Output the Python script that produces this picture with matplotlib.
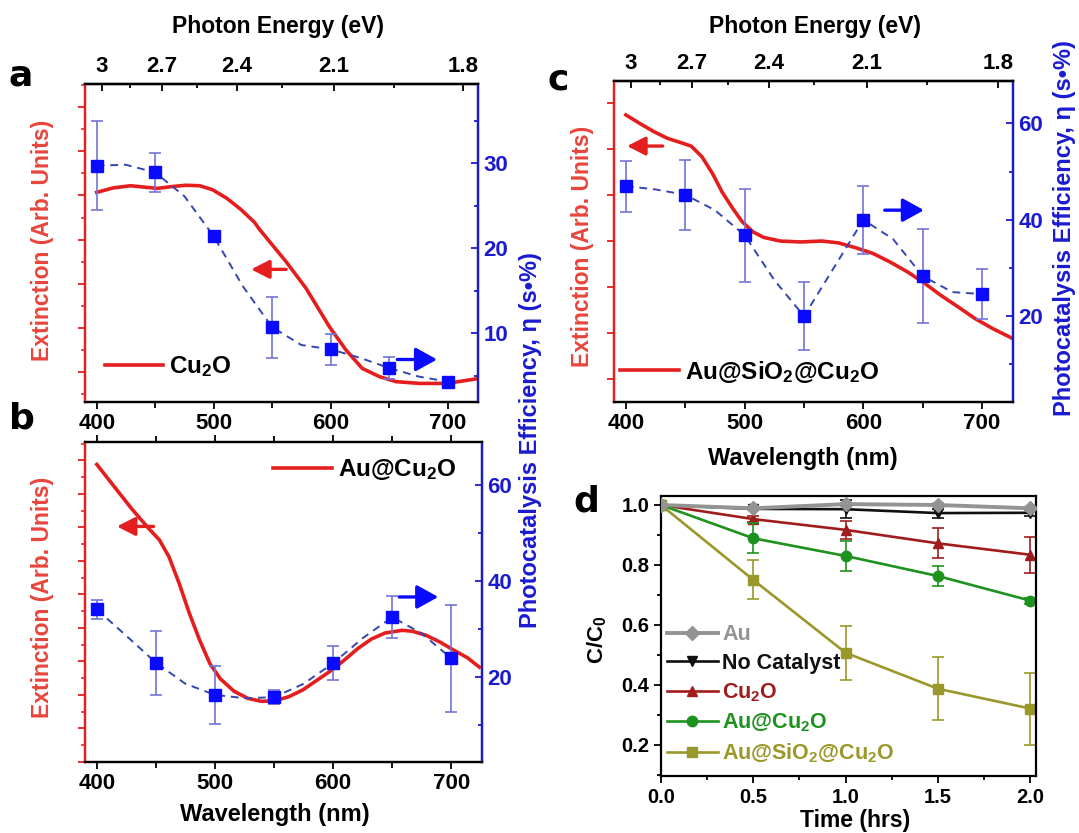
import numpy as np
import matplotlib
matplotlib.use('Agg')
import matplotlib.pyplot as plt
from matplotlib.ticker import MultipleLocator, FixedLocator, FormatStrFormatter

plt.rcParams.update({
    'font.family': ['Liberation Sans', 'DejaVu Sans'],
    'font.weight': 'bold',
    'mathtext.fontset': 'custom',
    'mathtext.rm': 'Liberation Sans:bold',
    'mathtext.bf': 'Liberation Sans:bold',
    'mathtext.it': 'Liberation Sans:bold',
    'mathtext.default': 'rm',
    'axes.linewidth': 1.6,
})

# ---- data: photocatalysis efficiency (blue squares) ----
wl = [400, 450, 500, 550, 600, 650, 700]
eta_a = [29.7, 28.9, 21.4, 10.7, 8.1, 5.9, 4.3]
eta_a_err = [5.2, 2.3, 0.4, 3.6, 1.85, 1.3, 0.5]
eta_b = [34.0, 22.9, 16.2, 15.7, 22.8, 32.4, 23.8]
eta_b_err = [2.0, 6.7, 6.1, 1.5, 3.6, 4.4, 11.2]
eta_c = [47.0, 45.2, 36.8, 20.0, 40.0, 28.3, 24.6]
eta_c_err = [5.3, 7.3, 9.6, 7.0, 7.0, 9.7, 5.1]

# dashed guide curves, read every 25 nm
wl_fit = [400, 425, 450, 475, 500, 525, 550, 575, 600, 625, 650, 675, 700]
fit_a = [29.7, 29.8, 28.9, 26.1, 21.4, 15.5, 10.7, 8.6, 8.1, 7.1, 5.9, 4.9, 4.3]
fit_b = [34.0, 28.5, 22.9, 18.5, 16.2, 15.5, 15.7, 18.5, 22.8, 28.0, 32.4, 29.0, 23.8]
fit_c = [47.0, 46.3, 45.2, 42.0, 36.8, 27.5, 20.0, 30.0, 40.0, 36.0, 28.3, 25.0, 24.6]

# ---- data: extinction spectra (red, arb. units) ----
ext_a_wl = [400, 414, 429, 440, 452, 464, 476, 488, 499, 511, 523, 535, 539,
            562, 579, 599, 613, 627, 642, 656, 676, 699, 724]
ext_a = [5.07, 5.17, 5.22, 5.19, 5.16, 5.20, 5.23, 5.22, 5.13, 4.94, 4.69, 4.39, 4.24,
         3.50, 2.90, 2.03, 1.51, 1.09, 0.90, 0.79, 0.75, 0.75, 0.85]

ext_b_wl = [400, 414.5, 429, 443.6, 452.9, 461, 469.7, 478.4, 487.1, 495.8, 504.6, 516.2,
            527.8, 539.4, 551, 562.6, 574.3, 585.9, 599.2, 609.1, 620.7, 632.4, 644,
            658.5, 667.2, 678.8, 690.4, 700, 713.7, 723.8]
ext_b = [8.88, 8.23, 7.58, 6.98, 6.63, 6.13, 5.33, 4.43, 3.63, 2.93, 2.48, 2.11,
         1.90, 1.81, 1.83, 1.95, 2.15, 2.43, 2.75, 3.03, 3.38, 3.67, 3.85,
         3.93, 3.90, 3.78, 3.58, 3.38, 3.11, 2.83]

ext_c_wl = [400, 412, 424, 435, 447, 455, 464, 473, 481, 490, 498, 507, 516, 530,
            547, 565, 579, 594, 608, 622, 637, 651, 665, 680, 694, 709, 724.5]
ext_c = [6.75, 6.56, 6.38, 6.24, 6.14, 6.07, 5.84, 5.47, 5.07, 4.71, 4.42, 4.20, 4.08, 4.00,
         3.98, 4.00, 3.96, 3.85, 3.73, 3.55, 3.33, 3.09, 2.82, 2.56, 2.31, 2.09, 1.89]

energy_ticks = [3, 2.7, 2.4, 2.1, 1.8]
energy_labels = ['3', '2.7', '2.4', '2.1', '1.8']
energy_minor = [2.85, 2.55, 2.25, 1.95]

# ---- data: degradation kinetics (panel d) ----
time_h = [0.0, 0.5, 1.0, 1.5, 2.0]
d_names = ['Au', 'No Catalyst', 'Cu$_2$O', 'Au@Cu$_2$O', 'Au@SiO$_2$@Cu$_2$O']
d_vals = [
    [1.0, 0.989, 1.003, 1.0, 0.989],
    [1.0, 0.987, 0.986, 0.973, 0.974],
    [1.0, 0.953, 0.917, 0.872, 0.834],
    [1.0, 0.889, 0.830, 0.763, 0.681],
    [1.0, 0.750, 0.507, 0.387, 0.321],
]
d_errs = [
    [0, 0.005, 0.005, 0.005, 0.005],
    [0, 0.005, 0.03, 0.015, 0.01],
    [0, 0.01, 0.03, 0.05, 0.06],
    [0, 0.05, 0.05, 0.033, 0.01],
    [0, 0.065, 0.09, 0.105, 0.12],
]
d_colors = ['#939393', '#101010', '#a01c1c', '#1e921e', '#9a982a']
d_markers = ['D', 'v', '^', 'o', 's']

RED = '#e41e1e'
RED_LABEL = '#e8453c'
BLUE = '#0a0aff'
BLUE_AX = '#1a1ad0'
BLUE_DASH = '#3446b0'
BLUE_ERR = '#7474d8'

W, H = 1079, 833
fig = plt.figure(figsize=(W / 100, H / 100), dpi=100)


def box(l, t, r, b):
    return [l / W, 1 - b / H, (r - l) / W, (b - t) / H]


def ftext(x, y, s, **kw):
    fig.text(x / W, 1 - y / H, s, ha='center', va='center', **kw)


def lam2e(x):
    x = np.asarray(x, float)
    with np.errstate(divide='ignore'):
        return 1390.0 / (x + 59.0)


def e2lam(e):
    e = np.asarray(e, float)
    with np.errstate(divide='ignore'):
        return 1390.0 / e - 59.0


def spectrum_panel(rect, red_lim, red_minor, blue_lim, blue_step, energy_top):
    ax = fig.add_axes(box(*rect))
    ax.set_xlim(390, 726)
    ax.set_ylim(*red_lim)
    ax.xaxis.set_major_locator(MultipleLocator(100))
    ax.xaxis.set_minor_locator(MultipleLocator(50))
    ax.yaxis.set_major_locator(MultipleLocator(1))
    if red_minor:
        ax.yaxis.set_minor_locator(MultipleLocator(0.5))
    else:
        ax.yaxis.set_minor_locator(FixedLocator([]))
    ax.tick_params(axis='y', which='both', colors=RED, direction='out', labelleft=False)
    ax.tick_params(axis='y', which='major', length=5, width=1.3)
    ax.tick_params(axis='y', which='minor', length=3, width=1.1)
    ax.tick_params(axis='x', which='both', direction='out', labelsize=16,
                   width=1.3, length=5, pad=3, top=not energy_top)
    ax.tick_params(axis='x', which='minor', length=4)
    ax.spines['left'].set_color(RED)

    ax2 = ax.twinx()
    ax2.set_ylim(*blue_lim)
    ax2.yaxis.set_major_locator(MultipleLocator(blue_step))
    ax2.yaxis.set_minor_locator(MultipleLocator(blue_step / 2))
    ax2.tick_params(axis='y', which='both', direction='in', colors=BLUE_AX,
                    labelsize=16, width=1.3, pad=4)
    ax2.tick_params(axis='y', which='major', length=5)
    ax2.tick_params(axis='y', which='minor', length=3)
    ax2.spines['right'].set_color(BLUE_AX)
    ax2.spines['left'].set_color(RED)

    if energy_top:
        sec = ax.secondary_xaxis('top', functions=(lam2e, e2lam))
        sec.set_xticks(energy_ticks)
        sec.set_xticklabels(energy_labels)
        sec.xaxis.set_minor_locator(FixedLocator(energy_minor))
        sec.tick_params(which='both', direction='in', labelsize=16, width=1.3, pad=5)
        sec.tick_params(which='major', length=5)
        sec.tick_params(which='minor', length=3)
    return ax, ax2


def draw_spectrum(ax, ax2, ext_wl, ext, label, eta, err, fit, leg_xy):
    ax.plot(ext_wl, ext, color=RED, lw=2.6, label=label, zorder=3)
    ax2.plot(wl_fit, fit, color=BLUE_DASH, lw=1.4, ls=(0, (4, 3)), zorder=2)
    ax2.errorbar(wl, eta, yerr=err, fmt='none', ecolor=BLUE_ERR, elinewidth=1.2,
                 capsize=4, capthick=1.2, zorder=3)
    ax2.plot(wl, eta, 's', color=BLUE, ms=9, zorder=4)
    ax.legend(loc='center left', bbox_to_anchor=leg_xy, frameon=False, fontsize=17.5,
              handlelength=2.4, handletextpad=0.25, borderpad=0, borderaxespad=0)


def arrow(ax, x0, x1, y, color, big=False):
    style = ('-|>,head_length=0.65,head_width=0.36' if big
             else '-|>,head_length=0.55,head_width=0.28')
    ax.annotate('', xy=(x1, y), xytext=(x0, y),
                arrowprops=dict(arrowstyle=style, color=color, lw=2.4,
                                mutation_scale=20, shrinkA=0, shrinkB=0), zorder=5)


# panel a
axa, axa2 = spectrum_panel((85, 84, 478, 402), (0.33, 7.52), True, (1.9, 39.3), 10, True)
draw_spectrum(axa, axa2, ext_a_wl, ext_a, 'Cu$_2$O', eta_a, eta_a_err, fit_a, (0.05, 0.11))
arrow(axa2, 562, 532, 17.5, RED)
arrow(axa2, 657, 691, 6.9, BLUE, big=True)

# panel b
axb, axb2 = spectrum_panel((85, 442, 482, 762), (0.0, 9.55), True, (2.2, 68.9), 20, False)
draw_spectrum(axb, axb2, ext_b_wl, ext_b, 'Au@Cu$_2$O', eta_b, eta_b_err, fit_b, (0.474, 0.914))
arrow(axb2, 448, 417, 51.3, RED)
arrow(axb2, 656, 689, 36.6, BLUE, big=True)

# panel c
axc, axc2 = spectrum_panel((614, 81, 1013, 402), (0.49, 7.49), False, (2.2, 68.8), 20, True)
draw_spectrum(axc, axc2, ext_c_wl, ext_c, 'Au@SiO$_2$@Cu$_2$O', eta_c, eta_c_err, fit_c,
              (0.016, 0.094))
arrow(axc2, 431, 401, 55.3, RED)
arrow(axc2, 618, 651, 42.0, BLUE, big=True)

# panel d
axd = fig.add_axes(box(661, 496, 1036, 776))
for vals, errs, name, col, mk in zip(d_vals, d_errs, d_names, d_colors, d_markers):
    lw = 2.8 if name == 'Au' else 1.9
    z = 3 if name == 'Au' else 2
    axd.errorbar(time_h, vals, yerr=errs, fmt='none', ecolor=col, elinewidth=1.2,
                 capsize=4, capthick=1.2, zorder=z)
    axd.plot(time_h, vals, color=col, lw=lw, marker=mk, ms=7.5, label=name, zorder=z)
axd.set_xlim(0, 2.031)
axd.set_ylim(0.096, 1.03)
axd.xaxis.set_major_locator(MultipleLocator(0.5))
axd.xaxis.set_minor_locator(MultipleLocator(0.25))
axd.yaxis.set_major_locator(MultipleLocator(0.2))
axd.yaxis.set_minor_locator(MultipleLocator(0.1))
axd.xaxis.set_major_formatter(FormatStrFormatter('%.1f'))
axd.yaxis.set_major_formatter(FormatStrFormatter('%.1f'))
axd.tick_params(which='both', direction='out', labelsize=14.5, width=1.3)
axd.tick_params(which='major', length=5)
axd.tick_params(which='minor', length=3)
leg = axd.legend(loc='upper left', bbox_to_anchor=(0.0165, 0.542), frameon=False,
                 fontsize=15.5, handlelength=2.35, handletextpad=0.2, labelspacing=0.36,
                 borderpad=0, borderaxespad=0, numpoints=1)
for t, col in zip(leg.get_texts(), d_colors):
    t.set_color(col)

# axis titles
ftext(278, 27, 'Photon Energy (eV)', fontsize=16.5)
ftext(815, 27, 'Photon Energy (eV)', fontsize=16.5)
ftext(275, 815, 'Wavelength (nm)', fontsize=17)
ftext(803, 458, 'Wavelength (nm)', fontsize=17)
ftext(855, 820, 'Time (hrs)', fontsize=16.5)
ftext(597, 640, 'C/C$_0$', fontsize=16, rotation=90)
ftext(43, 240, 'Extinction (Arb. Units)', fontsize=16.5, rotation=90, color=RED_LABEL)
ftext(43, 597, 'Extinction (Arb. Units)', fontsize=16.5, rotation=90, color=RED_LABEL)
ftext(583, 246, 'Extinction (Arb. Units)', fontsize=16.5, rotation=90, color=RED_LABEL)
ftext(530, 440, 'Photocatalysis Efficiency, η (s•%)', fontsize=17, rotation=90, color=BLUE_AX)
ftext(1064, 228, 'Photocatalysis Efficiency, η (s•%)', fontsize=17, rotation=90, color=BLUE_AX)

# panel letters
for x, y, s in [(21, 76, 'a'), (22, 418, 'b'), (558, 80, 'c'), (586, 501, 'd')]:
    fig.text(x / W, 1 - y / H, s, ha='center', va='center', fontsize=26,
             family=['DejaVu Sans'], weight='bold')

fig.savefig('out.png', dpi=100)
